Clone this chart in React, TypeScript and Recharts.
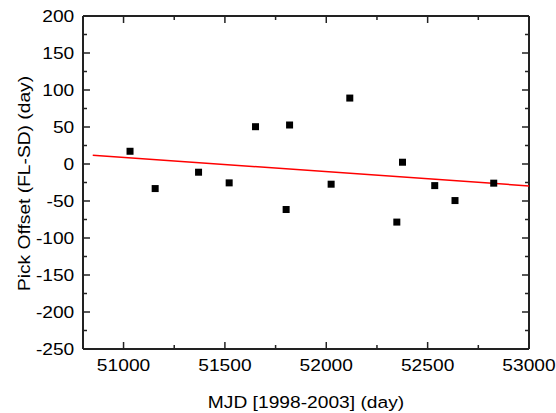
import React from "react";
import { ScatterChart, Scatter, XAxis, YAxis } from "recharts";

const mjd = [51032, 51156, 51370, 51521, 51651, 51802, 51819, 52024, 52116, 52348, 52376, 52535, 52635, 52826];
const offset = [17.2, -33.2, -11.1, -25.5, 50.4, -61.5, 52.7, -27.3, 89.1, -78.5, 2.4, -29.2, -49.4, -25.9];

const fitX = [50848, 53000];
const fitY = [11.8, -29.6];

const xTicks = [51000, 51250, 51500, 51750, 52000, 52250, 52500, 52750, 53000];
const yTicks = [-250, -225, -200, -175, -150, -125, -100, -75, -50, -25, 0, 25, 50, 75, 100, 125, 150, 175, 200];

const points = mjd.map((x, i) => ({ x, y: offset[i] }));
const fit = fitX.map((x, i) => ({ x, y: fitY[i] }));

const FONT = "'Liberation Sans', Arial, sans-serif";
const FS = 17;
const STRETCH = 1.13;
const AXIS = "#222";
const MAJOR = 7;
const MINOR = 4;

const BottomTick = (props: any) => {
  const { x, y, payload } = props;
  const major = payload.value % 500 === 0;
  return (
    <g>
      <line x1={x} x2={x} y1={y} y2={y - (major ? MAJOR : MINOR)} stroke={AXIS} strokeWidth={1.5} />
      {major && (
        <text
          transform={`translate(${x},${y + 22}) scale(${STRETCH},1)`}
          textAnchor="middle"
          fontFamily={FONT}
          fontSize={FS}
          fill="#000"
        >
          {payload.value}
        </text>
      )}
    </g>
  );
};

const TopTick = (props: any) => {
  const { x, y, payload } = props;
  const major = payload.value % 500 === 0;
  return <line x1={x} x2={x} y1={y} y2={y + (major ? MAJOR : MINOR)} stroke={AXIS} strokeWidth={1.5} />;
};

const LeftTick = (props: any) => {
  const { x, y, payload } = props;
  const major = payload.value % 50 === 0;
  return (
    <g>
      <line x1={x} x2={x + (major ? MAJOR : MINOR)} y1={y} y2={y} stroke={AXIS} strokeWidth={1.5} />
      {major && (
        <text
          transform={`translate(${x - 8.7},${y + 5.8}) scale(${STRETCH},1)`}
          textAnchor="end"
          fontFamily={FONT}
          fontSize={FS}
          fill="#000"
        >
          {payload.value}
        </text>
      )}
    </g>
  );
};

const RightTick = (props: any) => {
  const { x, y, payload } = props;
  const major = payload.value % 50 === 0;
  return <line x1={x} x2={x - (major ? MAJOR : MINOR)} y1={y} y2={y} stroke={AXIS} strokeWidth={1.5} />;
};

const Square = (props: any) => {
  const { cx, cy } = props;
  if (cx == null || cy == null) return <g />;
  return <rect x={cx - 3.5} y={cy - 3.5} width={7} height={7} fill="#000" />;
};

const NoDot = () => <g />;

export default function App() {
  return (
    <div style={{ position: "absolute", left: 0, top: 0, width: 556, height: 413, background: "#fff" }}>
      <ScatterChart width={556} height={413} margin={{ top: 15, right: 26, bottom: 0, left: 0 }}>
        <XAxis
          type="number"
          dataKey="x"
          domain={[50800, 53000]}
          ticks={xTicks}
          interval={0}
          tick={<BottomTick />}
          tickLine={false}
          tickSize={0}
          tickMargin={0}
          height={64}
          axisLine={{ stroke: AXIS, strokeWidth: 2 }}
        />
        <XAxis
          xAxisId="top"
          orientation="top"
          type="number"
          dataKey="x"
          domain={[50800, 53000]}
          ticks={xTicks}
          interval={0}
          tick={<TopTick />}
          tickLine={false}
          tickSize={0}
          tickMargin={0}
          height={1}
          axisLine={{ stroke: AXIS, strokeWidth: 2 }}
        />
        <YAxis
          type="number"
          dataKey="y"
          domain={[-250, 200]}
          ticks={yTicks}
          interval={0}
          tick={<LeftTick />}
          tickLine={false}
          tickSize={0}
          tickMargin={0}
          width={83}
          axisLine={{ stroke: AXIS, strokeWidth: 2 }}
        />
        <YAxis
          yAxisId="right"
          orientation="right"
          type="number"
          dataKey="y"
          domain={[-250, 200]}
          ticks={yTicks}
          interval={0}
          tick={<RightTick />}
          tickLine={false}
          tickSize={0}
          tickMargin={0}
          width={1}
          axisLine={{ stroke: AXIS, strokeWidth: 2 }}
        />
        <Scatter
          data={fit}
          xAxisId="top"
          yAxisId="right"
          shape={<NoDot />}
          isAnimationActive={false}
        />
        <Scatter
          data={fit}
          line={{ stroke: "#ff0000", strokeWidth: 1.5 }}
          shape={<NoDot />}
          isAnimationActive={false}
        />
        <Scatter data={points} shape={<Square />} isAnimationActive={false} />
        <text
          transform={`translate(306,408) scale(${STRETCH},1)`}
          textAnchor="middle"
          fontFamily={FONT}
          fontSize={FS}
          fill="#000"
        >
          MJD [1998-2003] (day)
        </text>
        <text
          transform={`translate(29.7,183.5) rotate(-90) scale(${STRETCH},1)`}
          textAnchor="middle"
          fontFamily={FONT}
          fontSize={FS}
          fill="#000"
        >
          Pick Offset (FL-SD) (day)
        </text>
      </ScatterChart>
    </div>
  );
}
